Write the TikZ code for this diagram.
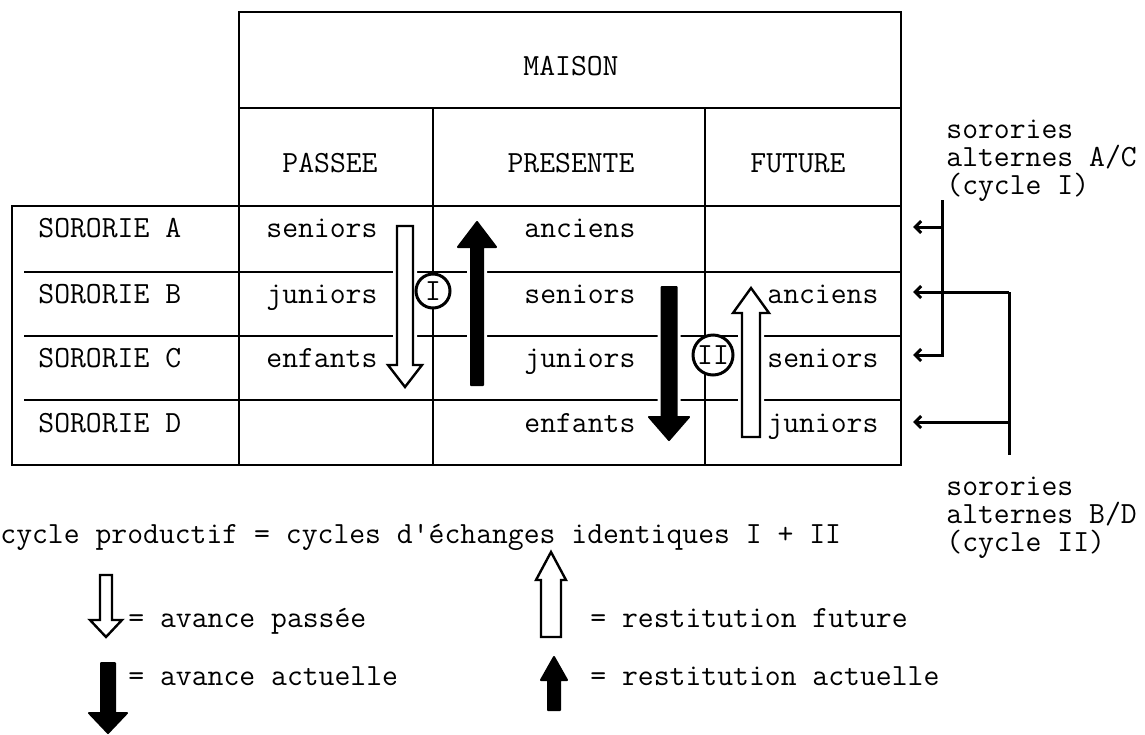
\documentclass[tikz,border=0pt]{standalone}
\usepackage{fontspec}
\usepackage{tikz}
\usetikzlibrary{arrows.meta}

\newcommand{\typew}{\ttfamily\addfontfeatures{FakeBold=0.7}\fontsize{15.4}{18}\selectfont}
\newcommand{\blockarrow}[7]{%
  \draw[halo] ({#2-#6},#3) -- ({#2+#6},#3) -- ({#2+#6},#4) -- ({#2+#7},#4) -- (#2,#5) -- ({#2-#7},#4) -- ({#2-#6},#4) -- cycle;
  \draw[#1] ({#2-#6},#3) -- ({#2+#6},#3) -- ({#2+#6},#4) -- ({#2+#7},#4) -- (#2,#5) -- ({#2-#7},#4) -- ({#2-#6},#4) -- cycle;}

\begin{document}
\begin{tikzpicture}[x=0.5pt, y=-0.5pt,
    txt/.style={font=\typew, inner sep=0pt, anchor=base west},
    head/.style={font=\typew, inner sep=0pt, anchor=base},
    grid/.style={line width=1pt},
    hollow/.style={draw=black, fill=white, line width=1.2pt},
    blackarr/.style={draw=black, fill=black, line width=1pt, line join=round},
    halo/.style={draw=white, line width=4pt},
    ring/.style={circle, draw, fill=white, line width=1.5pt, inner sep=0pt, font=\typew},
    bracket/.style={line width=1.5pt},
    toarr/.style={-{Straight Barb[length=3pt,width=6pt]}}]
    \useasboundingbox (0,0) rectangle (1145,734);

    \draw[grid] (239,206) |- (901,12) -- (901,465) -| (12,206) -- cycle;
    \draw[grid] (239,108) -- (901,108);
    \draw[grid] (239,206) -- (901,206);
    \draw[grid] (239,206) -- (239,465);
    \draw[grid] (433,108) -- (433,465);
    \draw[grid] (705,108) -- (705,465);
    \foreach \y in {272,336,400}
        \draw[grid] (24,\y) -- (901,\y);

    \node[head] (maison) at (571,75) {MAISON};
    \node[head] (passee) at (330,172) {PASSEE};
    \node[head] (presente) at (571,172) {PRESENTE};
    \node[head] (future) at (798,172) {FUTURE};

    \node[txt] (sorA) at (38,237) {SORORIE A};
    \node[txt] (sorB) at (38,303) {SORORIE B};
    \node[txt] (sorC) at (38,367) {SORORIE C};
    \node[txt] (sorD) at (38,432) {SORORIE D};

    \node[txt] (pasA) at (266,237) {seniors};
    \node[txt] (pasB) at (266,303) {juniors};
    \node[txt] (pasC) at (266,367) {enfants};

    \node[txt] (preA) at (524,237) {anciens};
    \node[txt] (preB) at (524,303) {seniors};
    \node[txt] (preC) at (524,367) {juniors};
    \node[txt] (preD) at (524,432) {enfants};

    \node[txt] (futB) at (767,303) {anciens};
    \node[txt] (futC) at (767,367) {seniors};
    \node[txt] (futD) at (767,432) {juniors};

    \blockarrow{hollow}{405}{226}{365}{387}{8}{17}
    \blockarrow{blackarr}{477}{385}{247}{222}{6}{19}
    \blockarrow{blackarr}{669}{287}{417}{440}{7.5}{20}
    \blockarrow{hollow}{751}{437}{313}{288}{9}{18}

    \node[ring, minimum size=17pt] (cycI) at (433,291) {I};
    \node[ring, minimum size=20pt] (cycII) at (713,355) {II};

    \coordinate (tipA) at (913,227);
    \coordinate (tipB) at (913,292);
    \coordinate (tipC) at (913,355);
    \coordinate (tipD) at (913,422);
    \coordinate (brI) at (942,200);
    \coordinate (brII) at (1009,292);
    \coordinate (brIIend) at (1009,455);
    \draw[bracket, toarr] (brI) |- (tipC);
    \draw[bracket, toarr] (tipA -| brI) -- (tipA);
    \draw[bracket] (brII) -- (brIIend);
    \draw[bracket, toarr] (brII) -- (tipB);
    \draw[bracket, toarr] (tipD -| brII) -- (tipD);

    \node[txt] (altAC1) at (946,138) {sorories};
    \node[txt] (altAC2) at (946,166) {alternes A/C};
    \node[txt] (altAC3) at (946,194) {(cycle I)};
    \node[txt] (altBD1) at (946,495) {sorories};
    \node[txt] (altBD2) at (946,523) {alternes B/D};
    \node[txt] (altBD3) at (946,551) {(cycle II)};

    \node[txt] (cycprod) at (0,543) {cycle productif = cycles d\textquotesingle échanges identiques I + II};

    \blockarrow{hollow}{106}{575}{620}{637}{6}{16}
    \blockarrow{blackarr}{108}{663}{713}{733}{7}{19}
    \blockarrow{hollow}{551}{637}{580}{552}{10}{15}
    \blockarrow{blackarr}{554}{710}{680}{657}{6}{13}

    \node[txt] (legAP) at (128,627) {= avance passée};
    \node[txt] (legAA) at (128,685) {= avance actuelle};
    \node[txt] (legRF) at (590,627) {= restitution future};
    \node[txt] (legRA) at (590,685) {= restitution actuelle};
\end{tikzpicture}
\end{document}
